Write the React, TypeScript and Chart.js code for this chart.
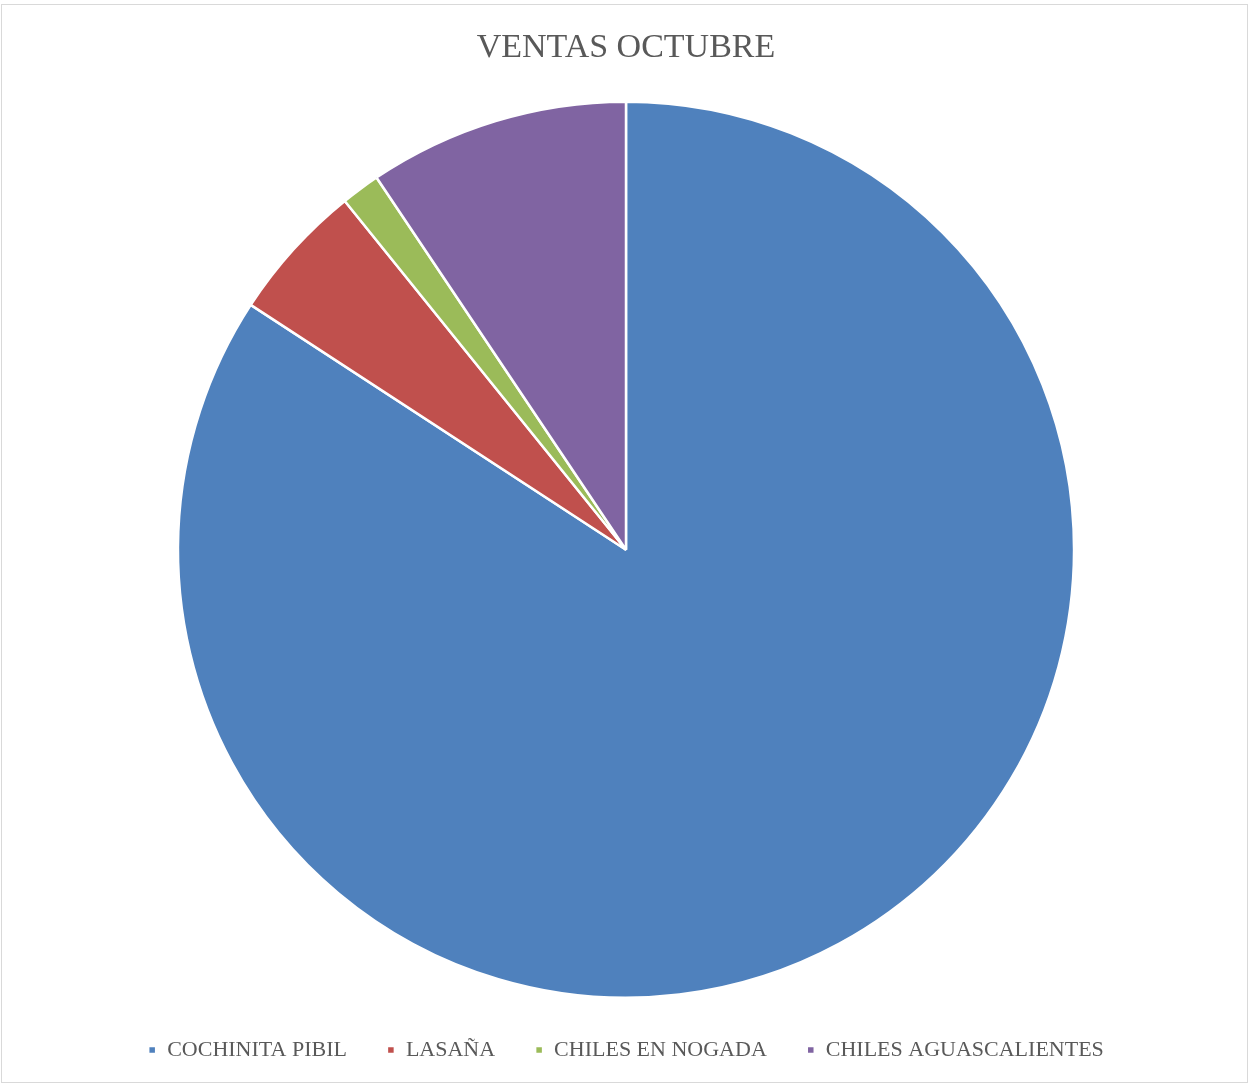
import React, { useEffect, useRef } from "react";
import { Chart, registerables } from "chart.js";

Chart.register(...registerables);

const categories = ["COCHINITA PIBIL", "LASAÑA", "CHILES EN NOGADA", "CHILES AGUASCALIENTES"];
const seriesValues = [84.2, 5.0, 1.4, 9.4];
const sliceColors = ["#4F81BD", "#C0504D", "#9BBB59", "#8064A2"];
const chartTitle = "VENTAS OCTUBRE";

const FONT = "'Liberation Serif', serif";

export default function App() {
  const canvasRef = useRef<HTMLCanvasElement | null>(null);

  useEffect(() => {
    const canvas = canvasRef.current;
    if (!canvas) return;
    const chart = new Chart(canvas, {
      type: "pie",
      data: {
        labels: categories,
        datasets: [
          {
            data: seriesValues,
            backgroundColor: sliceColors,
            borderColor: "#FFFFFF",
            borderWidth: 2.5,
          },
        ],
      },
      options: {
        responsive: false,
        animation: false,
        layout: { padding: { left: 2, right: 0, top: 0, bottom: 14 } },
        plugins: {
          title: {
            display: true,
            text: chartTitle,
            color: "#595959",
            font: { family: FONT, size: 34, weight: "normal" },
            padding: { top: 28, bottom: 31.6 },
          },
          legend: {
            display: true,
            position: "bottom",
            labels: {
              color: "#595959",
              font: { family: FONT, size: 22 },
              boxWidth: 8,
              boxHeight: 8,
              padding: 40,
            },
          },
          tooltip: { enabled: false },
        },
      },
    });
    return () => chart.destroy();
  }, []);

  return (
    <div style={{ position: "absolute", left: 0, top: 0, width: 1250, height: 1085, background: "#fff" }}>
      <div
        style={{
          position: "absolute",
          left: 1,
          top: 4,
          width: 1247,
          height: 1079,
          border: "1px solid #D9D9D9",
          boxSizing: "border-box",
        }}
      />
      <canvas ref={canvasRef} width={1250} height={1085} style={{ position: "absolute", left: 0, top: 0 }} />
    </div>
  );
}
